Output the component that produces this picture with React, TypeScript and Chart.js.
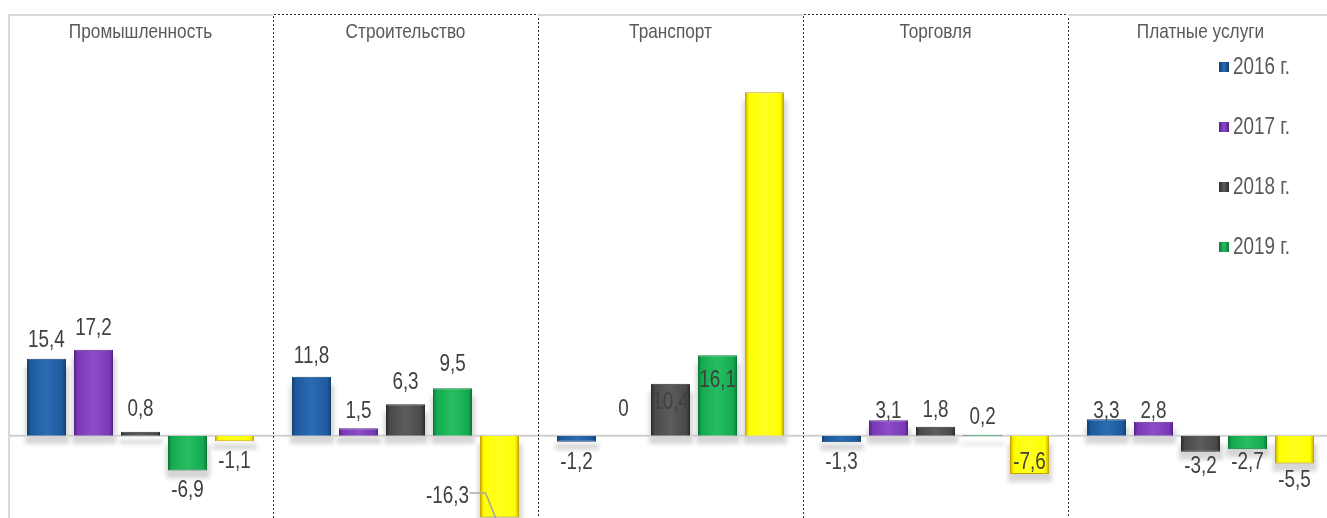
import React, { useEffect, useRef } from "react";
import { Chart, registerables } from "chart.js";

Chart.register(...registerables);

const categories = ["Промышленность", "Строительство", "Транспорт", "Торговля", "Платные услуги"];
const seriesLabels = ["2016 г.", "2017 г.", "2018 г.", "2019 г.", "2020 г."];
const values2016 = [15.4, 11.8, -1.2, -1.3, 3.3];
const values2017 = [17.2, 1.5, 0, 3.1, 2.8];
const values2018 = [0.8, 6.3, 10.4, 1.8, -3.2];
const values2019 = [-6.9, 9.5, 16.1, 0.2, -2.7];
const values2020 = [-1.1, -16.3, 68.6, -7.6, -5.5];
const seriesValues = [values2016, values2017, values2018, values2019, values2020];

// styling: vertical offset of each value label centre from the bar end (px); null = no label
const labelDy: (number | null)[][] = [
  [-18, -20, 21, 20, -8],
  [-21, -17, -26, -9, -10],
  [-22, -22, 19, -16, 15],
  [20, -24, 25, -17, 13],
  [20, 0, null, -11, 17],
];

const palette = [
  { main: "#1E5A9C", edge: "#103E72", hl: "#2A6CB4" },
  { main: "#7A3AB6", edge: "#55228A", hl: "#8C4CC8" },
  { main: "#4A4A4A", edge: "#2C2C2C", hl: "#5C5C5C" },
  { main: "#16AA50", edge: "#0B7A38", hl: "#26BE62" },
  { main: "#FFFF00", edge: "#C8A400", hl: "#FFFF20" },
];

const FONT = "'Liberation Sans', Arial, sans-serif";
const NARROW = 0.82;

function narrowText(ctx: any, text: string, x: number, y: number) {
  ctx.save();
  ctx.translate(x, y);
  ctx.scale(NARROW, 1);
  ctx.fillText(text, 0, 0);
  ctx.restore();
}

function gradFor(chart: any, datasetIndex: number, dataIndex: number, fallback: string, pal: any) {
  const meta = chart.getDatasetMeta(datasetIndex);
  const el: any = meta && meta.data ? meta.data[dataIndex] : null;
  if (!el || !el.width || !isFinite(el.x)) return fallback;
  const w = el.width;
  const g = chart.ctx.createLinearGradient(el.x - w / 2, 0, el.x + w / 2, 0);
  g.addColorStop(0, pal.edge);
  g.addColorStop(0.1, pal.main);
  g.addColorStop(0.5, pal.hl);
  g.addColorStop(0.9, pal.main);
  g.addColorStop(1, pal.edge);
  return g;
}

const fmt = (v: number) => String(v).replace(".", ",");

const decorPlugin = {
  id: "decor",
  beforeDatasetsDraw(chart: any) {
    const { ctx, chartArea } = chart;
    const x = chart.scales.x;
    const y = chart.scales.y;
    const catW = (chartArea.right - chartArea.left) / categories.length;
    ctx.save();
    // bar shadows
    ctx.fillStyle = "rgba(0,0,0,0.16)";
    ctx.filter = "blur(2px)";
    seriesValues.forEach((vals, si) => {
      const meta = chart.getDatasetMeta(si);
      vals.forEach((v, ci) => {
        const el: any = meta.data[ci];
        if (!el || v === 0) return;
        const top = Math.min(el.y, el.base);
        const h = Math.abs(el.base - el.y);
        ctx.fillRect(el.x - el.width / 2 - 2, top + 8, el.width + 5, Math.max(h, 2));
      });
    });
    ctx.filter = "none";
    const y0 = y.getPixelForValue(0);
    ctx.strokeStyle = "#D0D0D0";
    ctx.lineWidth = 2;
    ctx.beginPath();
    ctx.moveTo(chartArea.left, y0);
    ctx.lineTo(chartArea.right + 10, y0);
    ctx.stroke();
    ctx.strokeStyle = "#D9D9D9";
    ctx.lineWidth = 2;
    ctx.beginPath();
    ctx.moveTo(chartArea.left + 1, chartArea.top);
    ctx.lineTo(chartArea.left + 1, chartArea.bottom);
    ctx.stroke();
    categories.forEach((c, i) => {
      const cx = x.getPixelForValue(i);
      const l = cx - catW / 2;
      const r = cx + catW / 2;
      if (i % 2 === 1) {
        ctx.strokeStyle = "#2E2E2E";
        ctx.lineWidth = 1;
        ctx.setLineDash([2, 2]);
        ctx.beginPath();
        ctx.moveTo(Math.round(l) + 0.5, chartArea.bottom);
        ctx.lineTo(Math.round(l) + 0.5, chartArea.top + 0.5);
        ctx.lineTo(Math.round(r) + 0.5, chartArea.top + 0.5);
        ctx.lineTo(Math.round(r) + 0.5, chartArea.bottom);
        ctx.stroke();
        ctx.setLineDash([]);
      } else {
        ctx.strokeStyle = "#D9D9D9";
        ctx.lineWidth = 2;
        ctx.beginPath();
        ctx.moveTo(l, chartArea.top + 1);
        ctx.lineTo(r, chartArea.top + 1);
        ctx.stroke();
      }
      ctx.fillStyle = "#595959";
      ctx.font = `21px ${FONT}`;
      ctx.textAlign = "center";
      ctx.textBaseline = "middle";
      narrowText(ctx, c, cx, chartArea.top + 18);
    });
    ctx.restore();
  },
  afterDatasetsDraw(chart: any) {
    const { ctx, chartArea } = chart;
    ctx.save();
    ctx.font = `23px ${FONT}`;
    ctx.fillStyle = "#404040";
    ctx.textAlign = "center";
    ctx.textBaseline = "middle";
    seriesValues.forEach((vals, si) => {
      const meta = chart.getDatasetMeta(si);
      vals.forEach((v, ci) => {
        const dy = labelDy[si][ci];
        if (dy === null) return;
        const el: any = meta.data[ci];
        if (si === 4 && ci === 1) {
          const lx = el.x - 52;
          const ly = chartArea.bottom - 21;
          narrowText(ctx, fmt(v), lx, ly);
          ctx.strokeStyle = "#A6A6A6";
          ctx.lineWidth = 1.5;
          ctx.beginPath();
          ctx.moveTo(lx + 22, ly - 4);
          ctx.lineTo(el.x - 14, ly - 4);
          ctx.lineTo(el.x - 3, chartArea.bottom + 2);
          ctx.stroke();
          return;
        }
        narrowText(ctx, fmt(v), el.x, el.y + dy);
      });
    });
    ctx.textAlign = "left";
    for (let i = 0; i < 4; i++) {
      const ly = 67 + i * 60;
      const lx = 1219;
      const g = ctx.createLinearGradient(lx, 0, lx + 10, 0);
      g.addColorStop(0, palette[i].edge);
      g.addColorStop(0.5, palette[i].hl);
      g.addColorStop(1, palette[i].edge);
      ctx.fillStyle = g;
      ctx.fillRect(lx, ly - 5, 10, 10);
      ctx.fillStyle = "#595959";
      narrowText(ctx, seriesLabels[i], lx + 14, ly + 1);
    }
    ctx.restore();
  },
};

export default function App() {
  const ref = useRef<HTMLCanvasElement>(null);
  useEffect(() => {
    if (!ref.current) return;
    const chart = new Chart(ref.current, {
      type: "bar",
      data: {
        labels: categories,
        datasets: seriesValues.map((vals, si) => ({
          label: seriesLabels[si],
          data: vals,
          backgroundColor: (c: any) => gradFor(c.chart, c.datasetIndex, c.dataIndex, palette[si].main, palette[si]),
          borderColor: palette[si].edge,
          borderWidth: 1,
          categoryPercentage: 0.887,
          barPercentage: 0.83,
        })),
      },
      options: {
        animation: false,
        responsive: true,
        maintainAspectRatio: false,
        layout: { padding: { left: 8, top: 14, right: 2, bottom: 0 } },
        plugins: { legend: { display: false }, tooltip: { enabled: false } },
        scales: {
          x: { display: false },
          y: { display: false, min: -16.4, max: 84.2 },
        },
      },
      plugins: [decorPlugin],
    });
    chart.update();
    return () => chart.destroy();
  }, []);
  return (
    <div style={{ position: "absolute", left: 0, top: 0, width: 1327, height: 518, overflow: "hidden" }}>
      <div style={{ width: 1335, height: 518, position: "relative" }}>
        <canvas ref={ref} />
      </div>
    </div>
  );
}
